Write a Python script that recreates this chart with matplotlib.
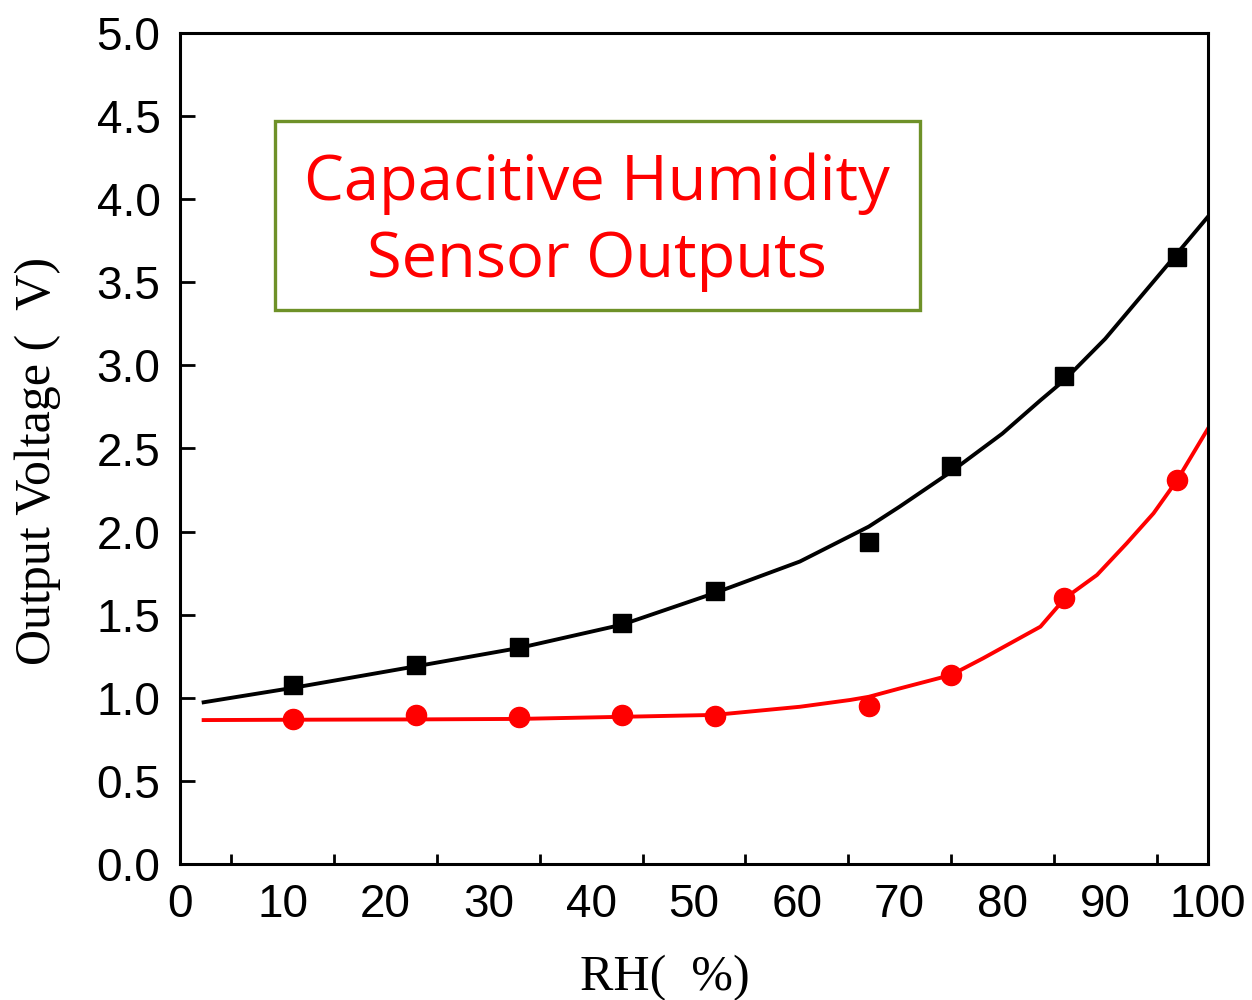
import matplotlib
matplotlib.use("Agg")
import matplotlib.pyplot as plt
from matplotlib.ticker import FixedLocator
from matplotlib.patches import Rectangle

# Data (RH %, output voltage V)
rh_points = [11, 23, 33, 43, 52, 67, 75, 86, 97]
black_points = [1.077, 1.197, 1.307, 1.448, 1.644, 1.935, 2.397, 2.938, 3.65]
red_points = [0.875, 0.899, 0.885, 0.899, 0.890, 0.948, 1.137, 1.600, 2.310]

# Fitted curves
black_fit_x = [2.3, 11, 23, 33, 43, 52, 60.3, 67, 70, 75, 80, 83.7, 86, 90, 96, 100]
black_fit_y = [0.973, 1.06, 1.19, 1.30, 1.44, 1.63, 1.82, 2.03, 2.15, 2.36, 2.59, 2.79, 2.91, 3.16, 3.60, 3.895]
red_fit_x = [2.3, 11, 23, 33, 40.9, 52, 60.3, 65.2, 67, 70, 75, 78.1, 83.7, 86.1, 89.2, 92.1, 94.7, 97, 100]
red_fit_y = [0.866, 0.868, 0.870, 0.873, 0.883, 0.897, 0.946, 0.987, 1.006, 1.056, 1.137, 1.237, 1.428, 1.60, 1.739, 1.93, 2.11, 2.31, 2.62]

x_ticks = list(range(0, 101, 10))
x_minor = list(range(5, 100, 10))
y_ticks = [i * 0.5 for i in range(11)]

fig = plt.figure(figsize=(12.52, 10), dpi=100)
ax = fig.add_axes([180 / 1252, 1 - 864 / 1000, (1208 - 180) / 1252, (864 - 33) / 1000])

ax.plot(black_fit_x, black_fit_y, color="black", lw=2.8, zorder=2)
ax.plot(red_fit_x, red_fit_y, color="#ff0000", lw=2.8, zorder=2)
ax.plot(rh_points, black_points, ls="none", marker="s", ms=12.5, color="black", zorder=3)
ax.plot(rh_points, red_points, ls="none", marker="o", ms=14.5, color="#ff0000", zorder=3)

ax.set_xlim(0, 100)
ax.set_ylim(0, 5)
ax.xaxis.set_major_locator(FixedLocator(x_ticks))
ax.xaxis.set_minor_locator(FixedLocator(x_minor))
ax.yaxis.set_major_locator(FixedLocator(y_ticks))
ax.set_xticklabels([str(v) for v in x_ticks])
ax.set_yticklabels([f"{v:.1f}" for v in y_ticks])

for s in ax.spines.values():
    s.set_linewidth(2.2)

tick_font = "Liberation Sans"
ax.tick_params(axis="x", which="major", length=0, pad=14, labelsize=33)
ax.tick_params(axis="x", which="minor", direction="in", length=7, width=2)
ax.tick_params(axis="y", which="major", direction="in", length=11, width=2, pad=14, labelsize=33)
for lab in ax.get_xticklabels() + ax.get_yticklabels():
    lab.set_fontfamily(tick_font)

fig.text(665 / 1252, 1 - 990 / 1000, "RH(  %)", ha="center", va="baseline",
         fontsize=36, family="Liberation Serif")
fig.text(38 / 1252, 1 - 461 / 1000, "Output Voltage (  V)", ha="center", va="center",
         rotation=90, fontsize=36, family="Liberation Serif")

# Title box
box = Rectangle((275 / 1252, 1 - 310 / 1000), (920 - 275) / 1252, (310 - 121) / 1000,
                transform=fig.transFigure, fill=True, facecolor="white",
                edgecolor="#6e9128", lw=2.4, zorder=5)
fig.patches.append(box)
fig.text(597 / 1252, 1 - 184 / 1000, "Capacitive Humidity", ha="center", va="center",
         fontsize=45.5, color="#ff0000", family="Open Sans", zorder=6)
fig.text(597 / 1252, 1 - 261 / 1000, "Sensor Outputs", ha="center", va="center",
         fontsize=45.5, color="#ff0000", family="Open Sans", zorder=6)

fig.savefig("out.png", dpi=100)
